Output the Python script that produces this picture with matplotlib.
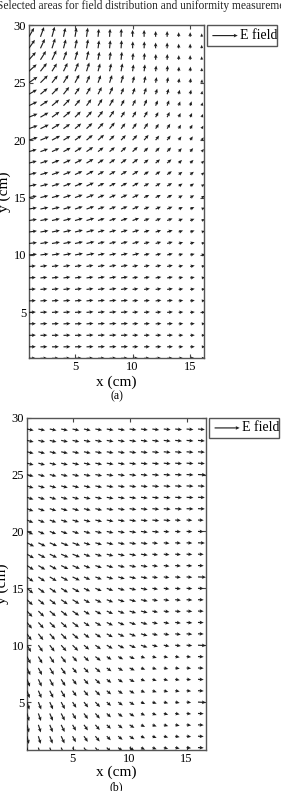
import numpy as np
import matplotlib
matplotlib.use('Agg')
import matplotlib.pyplot as plt
from matplotlib.patches import Rectangle

#----------------------------------------------------------------------------
# field maps (a) and (b): arrow direction (deg) and length (tenths of cm)
# rows go from y = 29 (top) down to y = 1, columns x = 1..16
#----------------------------------------------------------------------------
title_txt = 'Selected areas for field distribution and uniformity measurements'
x_cm = list(range(1, 17))
y_cm = list(range(29, 0, -1))
xticks = [5, 10, 15]
yticks = [5, 10, 15, 20, 25, 30]

ang_a = [
    [60, 70, 75, 78, 80, 82, 84, 86, 88, 90, 90, 90, 90, 90, 90, 90],
    [55, 65, 72, 75, 78, 80, 82, 84, 86, 88, 88, 90, 90, 90, 90, 90],
    [48, 58, 65, 70, 74, 77, 80, 82, 84, 85, 86, 88, 88, 88, 90, 90],
    [42, 52, 58, 64, 68, 72, 75, 78, 80, 82, 83, 84, 85, 86, 86, 88],
    [35, 45, 52, 58, 62, 66, 70, 72, 74, 76, 78, 80, 80, 82, 82, 84],
    [30, 40, 46, 52, 56, 60, 63, 66, 68, 70, 72, 74, 75, 76, 78, 80],
    [26, 34, 40, 46, 50, 54, 58, 60, 62, 64, 66, 68, 70, 70, 72, 74],
    [22, 30, 36, 40, 45, 48, 52, 55, 57, 59, 60, 62, 64, 65, 66, 68],
    [20, 26, 32, 36, 40, 44, 47, 50, 52, 54, 55, 57, 58, 60, 60, 62],
    [18, 23, 28, 32, 36, 40, 42, 45, 47, 48, 50, 52, 53, 54, 55, 56],
    [16, 20, 25, 28, 32, 35, 38, 40, 42, 43, 45, 46, 47, 48, 50, 50],
    [15, 18, 22, 25, 28, 31, 34, 36, 37, 38, 40, 41, 42, 43, 44, 45],
    [14, 16, 20, 22, 25, 28, 30, 31, 32, 33, 34, 35, 36, 37, 38, 40],
    [12, 15, 18, 20, 22, 25, 26, 27, 28, 29, 30, 31, 32, 33, 34, 35],
    [11, 14, 16, 18, 20, 22, 23, 24, 25, 26, 27, 27, 28, 29, 30, 30],
    [10, 12, 14, 16, 18, 19, 20, 21, 22, 23, 23, 24, 24, 25, 26, 26],
    [9, 11, 13, 14, 16, 17, 18, 18, 19, 20, 20, 21, 21, 22, 22, 22],
    [8, 10, 12, 13, 14, 15, 16, 16, 17, 17, 18, 18, 18, 19, 19, 19],
    [7, 9, 10, 11, 12, 13, 14, 14, 15, 15, 15, 16, 16, 16, 16, 16],
    [6, 8, 9, 10, 11, 11, 12, 12, 13, 13, 13, 13, 14, 14, 14, 14],
    [5, 7, 8, 9, 9, 10, 10, 11, 11, 11, 11, 12, 12, 12, 12, 12],
    [5, 6, 7, 8, 8, 8, 9, 9, 9, 9, 10, 10, 10, 10, 10, 10],
    [4, 5, 6, 6, 7, 7, 7, 8, 8, 8, 8, 8, 8, 8, 8, 8],
    [3, 4, 5, 5, 6, 6, 6, 6, 6, 6, 6, 7, 7, 7, 7, 7],
    [3, 3, 4, 4, 4, 5, 5, 5, 5, 5, 5, 5, 5, 5, 5, 5],
    [2, 3, 3, 3, 3, 4, 4, 4, 4, 4, 4, 4, 4, 4, 4, 4],
    [2, 2, 2, 2, 2, 3, 3, 3, 3, 3, 3, 3, 3, 3, 3, 3],
    [1, 1, 1, 1, 2, 2, 2, 2, 2, 2, 2, 2, 2, 2, 2, 2],
    [0, 0, 0, 0, 1, 1, 1, 1, 1, 1, 1, 1, 1, 1, 1, 1],
]
len_a = [
    [9, 9, 9, 8, 8, 8, 7, 7, 7, 6, 6, 5, 5, 4, 4, 3],
    [9, 9, 9, 8, 8, 8, 7, 7, 7, 6, 6, 5, 5, 4, 4, 3],
    [9, 9, 9, 8, 8, 8, 7, 7, 7, 6, 6, 5, 5, 4, 4, 3],
    [9, 9, 8, 8, 8, 8, 7, 7, 7, 6, 6, 5, 5, 4, 4, 3],
    [9, 9, 8, 8, 8, 7, 7, 7, 7, 6, 6, 5, 5, 4, 4, 3],
    [8, 8, 8, 8, 7, 7, 7, 7, 6, 6, 6, 5, 5, 4, 4, 3],
    [8, 8, 8, 8, 7, 7, 7, 7, 6, 6, 6, 5, 5, 4, 4, 3],
    [8, 8, 8, 8, 7, 7, 7, 7, 6, 6, 6, 5, 5, 4, 4, 3],
    [8, 8, 8, 7, 7, 7, 7, 7, 6, 6, 6, 5, 5, 4, 4, 3],
    [8, 8, 8, 7, 7, 7, 7, 6, 6, 6, 6, 5, 5, 4, 4, 3],
    [7, 7, 7, 7, 7, 7, 6, 6, 6, 6, 5, 5, 5, 4, 4, 3],
    [7, 7, 7, 7, 7, 7, 6, 6, 6, 6, 5, 5, 5, 4, 4, 3],
    [7, 7, 7, 7, 7, 7, 6, 6, 6, 6, 5, 5, 5, 4, 4, 3],
    [7, 7, 7, 7, 7, 7, 6, 6, 6, 6, 5, 5, 5, 4, 4, 3],
    [7, 7, 7, 7, 7, 7, 6, 6, 6, 6, 5, 5, 5, 4, 4, 3],
    [7, 7, 7, 7, 7, 7, 6, 6, 6, 6, 5, 5, 5, 4, 4, 3],
    [7, 7, 7, 7, 7, 7, 6, 6, 6, 6, 5, 5, 5, 4, 4, 3],
    [7, 7, 7, 7, 7, 7, 6, 6, 6, 6, 5, 5, 5, 4, 4, 3],
    [7, 7, 7, 7, 7, 7, 6, 6, 6, 6, 5, 5, 5, 4, 4, 3],
    [7, 7, 7, 7, 7, 7, 6, 6, 6, 6, 5, 5, 5, 4, 4, 3],
    [6, 6, 6, 6, 6, 6, 6, 6, 6, 5, 5, 5, 5, 4, 4, 3],
    [6, 6, 6, 6, 6, 6, 6, 6, 6, 5, 5, 5, 5, 4, 4, 3],
    [6, 6, 6, 6, 6, 6, 6, 6, 6, 5, 5, 5, 5, 4, 4, 3],
    [6, 6, 6, 6, 6, 6, 6, 6, 6, 5, 5, 5, 5, 4, 4, 3],
    [6, 6, 6, 6, 6, 6, 6, 6, 6, 5, 5, 5, 5, 4, 4, 3],
    [6, 6, 6, 6, 6, 6, 6, 6, 6, 5, 5, 5, 5, 4, 4, 3],
    [6, 6, 6, 6, 6, 6, 6, 6, 6, 5, 5, 5, 5, 4, 4, 3],
    [6, 6, 6, 6, 6, 6, 6, 6, 6, 5, 5, 5, 5, 4, 4, 3],
    [6, 6, 6, 6, 6, 6, 6, 6, 6, 5, 5, 5, 5, 4, 4, 3],
]

ang_b = [
    [-12, -12, -12, -12, -12, -12, -10, -10, -10, -8, -8, -8, -6, -6, -5, -5],
    [-13, -13, -13, -12, -12, -12, -11, -10, -10, -9, -8, -8, -7, -6, -5, -5],
    [-14, -14, -13, -13, -12, -12, -11, -10, -10, -9, -8, -7, -6, -6, -5, -4],
    [-15, -15, -14, -14, -13, -12, -11, -10, -9, -8, -7, -7, -6, -5, -4, -4],
    [-16, -16, -15, -14, -13, -12, -11, -10, -9, -8, -7, -6, -5, -4, -4, -3],
    [-18, -17, -16, -15, -14, -13, -12, -10, -9, -8, -7, -6, -5, -4, -3, -3],
    [-19, -18, -17, -16, -15, -13, -12, -11, -9, -8, -7, -6, -5, -4, -3, -2],
    [-21, -20, -18, -17, -16, -14, -13, -11, -10, -8, -7, -6, -5, -4, -3, -2],
    [-23, -22, -20, -18, -17, -15, -13, -12, -10, -9, -7, -6, -5, -4, -3, -2],
    [-25, -24, -22, -20, -18, -16, -14, -13, -11, -9, -8, -6, -5, -4, -3, -2],
    [-27, -26, -24, -22, -20, -18, -16, -14, -12, -10, -9, -7, -6, -4, -3, -2],
    [-30, -28, -26, -24, -22, -20, -17, -15, -13, -11, -9, -8, -6, -5, -3, -2],
    [-33, -31, -29, -26, -24, -22, -19, -17, -14, -12, -10, -8, -7, -5, -4, -2],
    [-36, -34, -31, -29, -26, -24, -21, -18, -16, -13, -11, -9, -7, -5, -4, -2],
    [-39, -37, -34, -32, -29, -26, -23, -20, -17, -14, -12, -10, -8, -6, -4, -2],
    [-43, -40, -38, -35, -32, -29, -25, -22, -19, -16, -13, -11, -8, -6, -4, -2],
    [-47, -44, -41, -38, -35, -31, -28, -24, -21, -17, -14, -12, -9, -7, -4, -2],
    [-51, -48, -45, -42, -38, -34, -30, -26, -23, -19, -16, -13, -10, -7, -5, -2],
    [-55, -52, -49, -45, -41, -37, -33, -29, -25, -21, -17, -14, -11, -8, -5, -2],
    [-59, -56, -53, -49, -45, -40, -36, -31, -27, -23, -19, -15, -12, -8, -5, -3],
    [-62, -60, -56, -52, -48, -43, -38, -34, -29, -25, -20, -16, -12, -9, -6, -3],
    [-65, -63, -59, -55, -51, -46, -41, -36, -31, -26, -22, -17, -13, -9, -6, -3],
    [-68, -65, -62, -58, -53, -48, -43, -38, -33, -28, -23, -18, -14, -10, -6, -3],
    [-70, -67, -64, -60, -55, -50, -45, -40, -35, -30, -24, -19, -15, -10, -6, -3],
    [-72, -69, -66, -62, -57, -52, -47, -42, -36, -31, -25, -20, -15, -11, -7, -3],
    [-74, -71, -67, -63, -59, -54, -49, -43, -38, -32, -26, -21, -16, -11, -7, -3],
    [-75, -72, -68, -64, -60, -55, -50, -44, -39, -33, -27, -21, -16, -11, -7, -3],
    [-76, -73, -69, -65, -61, -56, -51, -45, -39, -33, -27, -22, -16, -11, -7, -3],
    [-77, -74, -70, -66, -62, -57, -51, -46, -40, -34, -28, -22, -17, -12, -7, -3],
]
len_b = [
    [6, 6, 6, 6, 6, 6, 6, 6, 6, 6, 6, 6, 6, 6, 6, 6],
    [6, 6, 6, 6, 6, 6, 6, 6, 6, 6, 6, 6, 6, 6, 6, 6],
    [6, 6, 6, 6, 6, 6, 6, 6, 6, 6, 6, 6, 6, 6, 6, 6],
    [6, 6, 6, 6, 6, 6, 6, 6, 6, 6, 6, 6, 6, 6, 6, 6],
    [6, 6, 6, 6, 6, 6, 6, 6, 6, 6, 6, 6, 6, 6, 6, 7],
    [6, 6, 6, 6, 6, 6, 6, 6, 6, 6, 6, 6, 6, 6, 6, 6],
    [6, 6, 6, 6, 6, 6, 6, 6, 6, 6, 6, 6, 6, 6, 6, 6],
    [6, 6, 6, 6, 6, 6, 6, 6, 6, 6, 6, 6, 6, 6, 6, 6],
    [6, 6, 6, 6, 6, 6, 6, 6, 6, 6, 6, 6, 6, 5, 5, 5],
    [6, 6, 6, 6, 6, 6, 6, 6, 6, 6, 6, 6, 5, 5, 5, 5],
    [7, 7, 7, 7, 7, 6, 6, 6, 6, 6, 6, 5, 5, 5, 5, 6],
    [7, 7, 7, 7, 7, 6, 6, 6, 6, 6, 6, 5, 5, 5, 5, 5],
    [7, 7, 7, 7, 7, 6, 6, 6, 6, 6, 6, 5, 5, 5, 5, 5],
    [7, 7, 7, 7, 7, 6, 6, 6, 6, 6, 6, 5, 5, 5, 5, 7],
    [7, 7, 7, 7, 7, 6, 6, 6, 6, 6, 6, 5, 5, 5, 5, 5],
    [7, 7, 7, 7, 7, 6, 6, 6, 6, 6, 6, 5, 5, 5, 5, 5],
    [7, 7, 7, 7, 7, 6, 6, 6, 6, 6, 6, 5, 5, 5, 5, 5],
    [7, 7, 7, 7, 7, 6, 6, 6, 6, 6, 6, 5, 5, 5, 5, 5],
    [7, 7, 7, 7, 7, 6, 6, 6, 6, 6, 6, 5, 5, 5, 5, 5],
    [7, 7, 7, 7, 7, 6, 6, 6, 6, 6, 6, 5, 5, 5, 5, 7],
    [7, 7, 7, 7, 6, 6, 6, 5, 5, 5, 4, 4, 4, 4, 4, 5],
    [7, 7, 7, 7, 6, 6, 6, 5, 5, 5, 4, 4, 4, 4, 4, 5],
    [7, 7, 7, 7, 6, 6, 6, 5, 5, 5, 4, 4, 4, 4, 4, 5],
    [7, 7, 7, 7, 6, 6, 6, 5, 5, 5, 4, 4, 4, 4, 4, 5],
    [7, 7, 7, 7, 6, 6, 6, 5, 5, 5, 4, 4, 4, 4, 4, 7],
    [7, 7, 7, 7, 6, 6, 6, 5, 5, 5, 4, 4, 4, 4, 4, 5],
    [7, 7, 7, 7, 6, 6, 6, 5, 5, 5, 4, 4, 4, 4, 4, 5],
    [7, 7, 7, 7, 6, 6, 6, 5, 5, 5, 4, 4, 4, 4, 4, 5],
    [7, 7, 7, 7, 6, 6, 6, 5, 5, 5, 4, 4, 4, 4, 4, 5],
]

plt.rcParams['font.family'] = ['Liberation Serif', 'DejaVu Serif']

fig = plt.figure(figsize=(2.81, 7.91), dpi=100)
fig.text(-0.012, 0.992, title_txt, fontsize=8.3, va='center', ha='left', color='#222222')

X, Y = np.meshgrid(x_cm, y_cm)

def panel(rect, ang, ln, xlim, ylim, tag, tag_y, xl_y):
    ax = fig.add_axes(rect)
    th = np.radians(np.array(ang, dtype=float))
    L = np.array(ln, dtype=float) / 10.0
    q = ax.quiver(X, Y, L * np.cos(th), L * np.sin(th), angles='xy',
                  scale_units='xy', scale=1, color='#1e1e1e', width=0.0065,
                  headwidth=3.2, headlength=3.5, headaxislength=3.0, zorder=3)
    ax.set_xlim(*xlim)
    ax.set_ylim(*ylim)
    ax.set_xticks(xticks)
    ax.set_yticks(yticks)
    ax.tick_params(direction='in', top=True, right=True, length=3,
                   width=0.8, labelsize=9, pad=2, color='#444444')
    for s in ax.spines.values():
        s.set_color('#555555')
        s.set_linewidth(1.0)
    ax.set_ylabel('y (cm)', fontsize=11)
    ax.yaxis.set_label_coords(-0.10, 0.5)
    fig.text(0.415, xl_y, 'x (cm)', fontsize=11, ha='center', va='center')
    fig.text(0.415, tag_y, tag, fontsize=8.5, ha='center', va='center')
    # legend box with one key arrow
    x0, y0 = rect[0] + rect[2], rect[1] + rect[3]
    fig.patches.append(Rectangle((x0 + 0.012, y0 - 0.026), 0.248, 0.026,
                                 transform=fig.transFigure, fill=False,
                                 edgecolor='#555555', linewidth=1.0))
    ax.quiverkey(q, x0 + 0.12, y0 - 0.013, 2.2, 'E field', labelpos='E',
                 coordinates='figure', labelsep=0.025,
                 fontproperties={'size': 10})
    return ax

panel([0.103, 0.547, 0.623, 0.421], ang_a, len_a, (1, 16.2), (1, 30),
      '(a)', 0.499, 0.517)
panel([0.096, 0.052, 0.637, 0.420], ang_b, len_b, (1, 16.7), (0.8, 30),
      '(b)', 0.005, 0.024)

fig.savefig('out.png', dpi=100)
